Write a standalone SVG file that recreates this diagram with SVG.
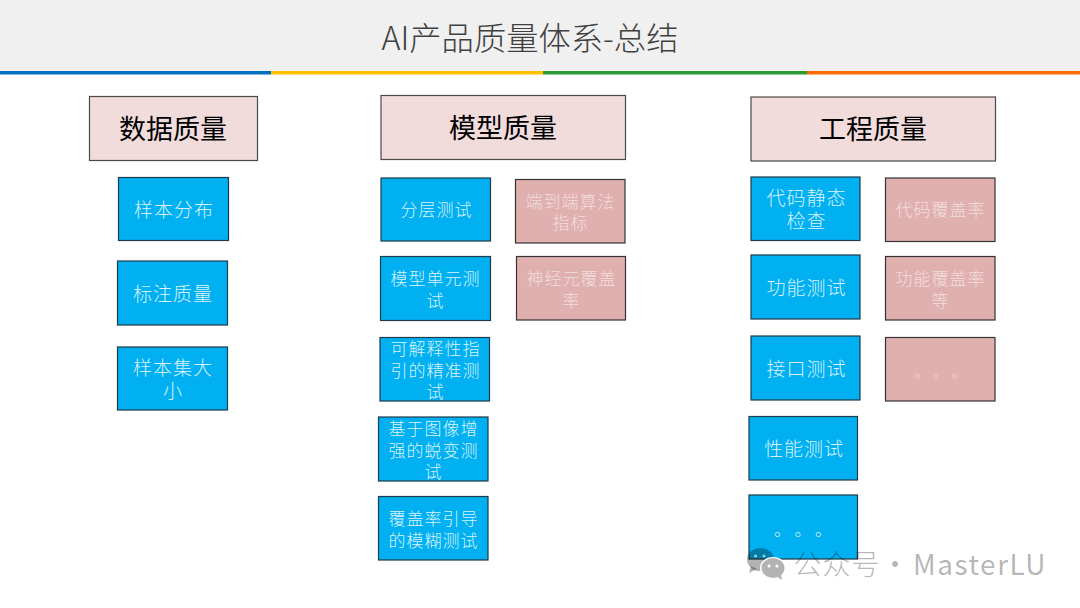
<svg xmlns="http://www.w3.org/2000/svg" width="1080" height="608" viewBox="0 0 1080 608">
<style>
text{font-family:"Noto Sans CJK SC","Noto Sans",sans-serif;text-anchor:middle}
.h rect{fill:#f2dcdb;stroke:#4a4a4a;stroke-width:1.200}
.h text{font-size:27px;fill:#000;font-weight:400}
.b rect{fill:#00b0f0;stroke:#1f3a4a;stroke-width:1.200}
.p rect{fill:#e0b0af;stroke:#333;stroke-width:1.200}
.b text,.p text{font-size:19px;fill:#d8f2fc;font-weight:300;letter-spacing:1px}
.p text{fill:#f2dede}
.s text{font-size:17px;letter-spacing:1px}
text.dots{text-anchor:start;letter-spacing:0}
</style>
<rect x="0" y="0" width="1080" height="71" fill="#f0f0f0"/>
<rect x="0" y="71" width="271" height="3.500" fill="#0070c0"/>
<rect x="271" y="71" width="272" height="3.500" fill="#ffc000"/>
<rect x="543" y="71" width="264" height="3.500" fill="#2e9a35"/>
<rect x="807" y="71" width="273" height="3.500" fill="#ff6a00"/>
<text x="530" y="50" font-size="32.300" fill="#404040" font-weight="300">AI产品质量体系-总结</text>
<g id="connectors"/>
<g id="h1" class="h"><rect x="89.500" y="96.500" width="168" height="64"/><text x="173" y="139">数据质量</text></g>
<g id="h2" class="h"><rect x="381" y="95.500" width="244.500" height="64"/><text x="503" y="138">模型质量</text></g>
<g id="h3" class="h"><rect x="751" y="97" width="244.500" height="64"/><text x="873" y="139">工程质量</text></g>
<g id="d1" class="b"><rect x="118.500" y="177.500" width="110" height="63"/><text x="174" y="217">样本分布</text></g>
<g id="d2" class="b"><rect x="117.500" y="261" width="110" height="64"/><text x="173" y="301">标注质量</text></g>
<g id="d3" class="b"><rect x="117.500" y="347" width="110" height="63"/><text x="173" y="375">样本集大<tspan x="173" dy="23">小</tspan></text></g>
<g id="m1" class="b s"><rect x="381" y="178" width="109.500" height="63"/><text x="436.500" y="216">分层测试</text></g>
<g id="m2" class="b s"><rect x="380.500" y="256.500" width="110" height="64"/><text x="435.500" y="285">模型单元测<tspan x="435.500" dy="22">试</tspan></text></g>
<g id="m3" class="b s"><rect x="380" y="337.500" width="109.500" height="63.500"/><text x="435.500" y="355">可解释性指<tspan x="435.500" dy="22">引的精准测</tspan><tspan x="435.500" dy="21">试</tspan></text></g>
<g id="m4" class="b s"><rect x="378.500" y="417" width="109.500" height="64"/><text x="433.500" y="435">基于图像增<tspan x="433.500" dy="22">强的蜕变测</tspan><tspan x="433.500" dy="21">试</tspan></text></g>
<g id="m5" class="b s"><rect x="378.500" y="496.500" width="109.500" height="63.500"/><text x="433.500" y="525">覆盖率引导<tspan x="433.500" dy="22">的模糊测试</tspan></text></g>
<g id="m6" class="p s"><rect x="515.500" y="179.500" width="109.500" height="63.500"/><text x="570.500" y="208">端到端算法<tspan x="570.500" dy="21">指标</tspan></text></g>
<g id="m7" class="p s"><rect x="516.500" y="256.500" width="109" height="63.500"/><text x="571.500" y="285">神经元覆盖<tspan x="571.500" dy="22">率</tspan></text></g>
<g id="e1" class="b"><rect x="751" y="177" width="109" height="63.500"/><text x="806.500" y="205">代码静态<tspan x="806.500" dy="23">检查</tspan></text></g>
<g id="e2" class="b"><rect x="751" y="255" width="109" height="64"/><text x="806.500" y="295">功能测试</text></g>
<g id="e3" class="b"><rect x="751" y="336" width="109" height="64"/><text x="806.500" y="376">接口测试</text></g>
<g id="e4" class="b"><rect x="749" y="416.500" width="108.500" height="63.500"/><text x="804" y="456">性能测试</text></g>
<g id="e5" class="b"><rect x="749" y="495" width="108.500" height="64"/><text class="dots" x="774 794.600 815" y="535.500" style="font-size:17px">。。。</text></g>
<g id="e6" class="p s"><rect x="885.500" y="178" width="109.500" height="63.500"/><text x="940.500" y="216">代码覆盖率</text></g>
<g id="e7" class="p s"><rect x="885.500" y="256.500" width="109.500" height="63.500"/><text x="940.500" y="285">功能覆盖率<tspan x="940.500" dy="22">等</tspan></text></g>
<g id="e8" class="p"><rect x="885.500" y="337.500" width="109.500" height="63.500"/><text class="dots" x="914.500 933 951.500" y="376.500" style="font-size:15px">。。。</text></g>
<g id="watermark">
<g fill="#000" fill-opacity="0.3">
<ellipse cx="760.500" cy="559.500" rx="13.500" ry="11.500"/>
<path d="M751 566l-2 7 8-4z"/>
</g>
<ellipse cx="773" cy="568" rx="13" ry="11" fill="#fff"/>
<ellipse cx="773" cy="568" rx="11.500" ry="10" fill="#b3b3b3"/>
<path d="M776 576l6 4-1-6z" fill="#b3b3b3"/>
<circle cx="755.500" cy="556" r="1.600" fill="#fff" fill-opacity="0.6"/><circle cx="764" cy="556" r="1.600" fill="#fff" fill-opacity="0.6"/>
<circle cx="769" cy="566" r="1.500" fill="#fff"/><circle cx="777" cy="566" r="1.500" fill="#fff"/>
<g fill="#000" fill-opacity="0.3" font-size="28">
<text x="837" y="575" style="letter-spacing:1px;font-weight:300">公众号</text>
<text x="895" y="575">·</text>
<text x="980" y="575" style="letter-spacing:1.500px">MasterLU</text>
</g>
</g>
</svg>
